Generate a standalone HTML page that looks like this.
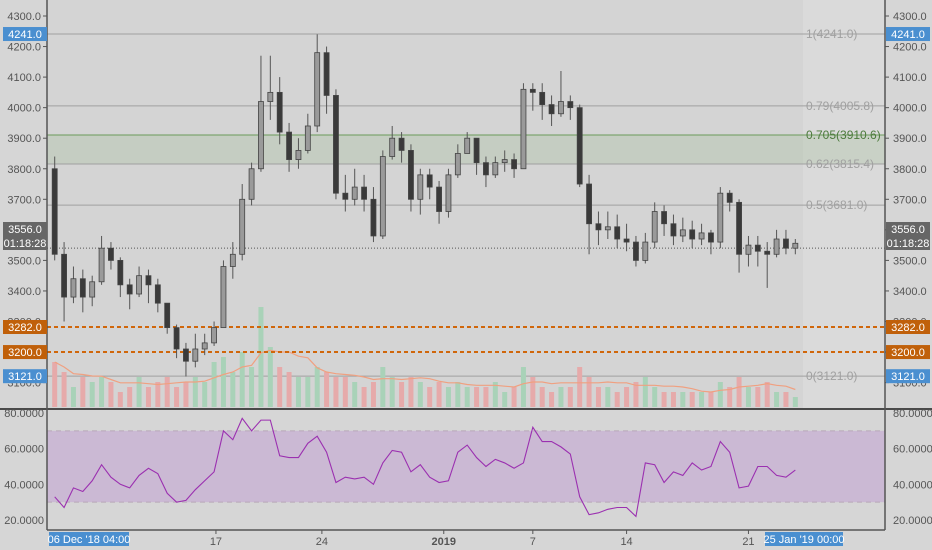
<!DOCTYPE html>
<html><head><meta charset="utf-8"><style>
html,body{margin:0;padding:0;background:#d6d6d6;}
svg{display:block;font-family:"Liberation Sans",sans-serif;}
</style></head><body>
<svg id="c" width="932" height="550" xmlns="http://www.w3.org/2000/svg"></svg>
<script>
const closes=[3520,3380,3440,3380,3430,3540,3500,3420,3390,3450,3420,3360,3280,3210,3170,3210,3230,3280,3480,3520,3700,3800,4020,4050,3920,3830,3860,3940,4180,4040,3720,3700,3740,3700,3580,3840,3900,3860,3700,3780,3740,3660,3780,3850,3900,3820,3780,3820,3830,3800,4060,4050,4010,3980,4020,4000,3750,3620,3600,3610,3570,3560,3500,3560,3660,3620,3580,3600,3570,3590,3560,3720,3690,3520,3550,3530,3520,3570,3540,3556];
const highs=[3840,3560,3480,3470,3450,3580,3560,3510,3440,3480,3470,3440,3360,3290,3230,3260,3260,3300,3500,3560,3750,3820,4170,4170,4100,3950,3900,3980,4240,4200,4060,3780,3800,3780,3740,3860,3940,3920,3880,3800,3800,3760,3800,3880,3920,3900,3840,3840,3860,3850,4080,4080,4080,4040,4120,4040,4010,3780,3660,3660,3650,3620,3580,3590,3690,3680,3650,3640,3630,3620,3600,3740,3730,3700,3580,3580,3560,3600,3600,3570];
const lows=[3500,3300,3360,3330,3350,3420,3470,3380,3340,3380,3360,3330,3260,3180,3120,3150,3190,3220,3280,3440,3500,3680,3790,3960,3880,3790,3800,3850,3920,3980,3700,3660,3680,3660,3560,3570,3830,3820,3660,3650,3700,3620,3640,3770,3850,3780,3740,3770,3790,3770,3800,3990,3960,3940,3970,3960,3740,3520,3550,3570,3540,3530,3480,3490,3540,3580,3550,3560,3540,3550,3520,3540,3660,3460,3480,3480,3410,3510,3520,3520];
const volumes=[45,35,20,30,25,30,25,15,20,30,20,25,30,20,25,30,25,45,50,35,55,40,100,60,40,35,30,30,40,35,30,30,25,20,25,40,30,25,30,25,20,25,20,25,20,20,20,25,15,20,40,30,20,15,20,20,40,30,20,20,15,20,25,30,20,15,15,15,15,15,15,25,20,30,20,20,25,15,15,10];
const rsi=[33,27,38,36,42,51,44,40,38,45,49,46,35,30,31,37,42,47,70,65,77,70,76,76,56,55,55,63,67,58,41,44,43,44,40,52,59,58,47,51,44,41,42,58,62,55,50,54,52,49,52,72,64,64,61,57,33,23,24,26,27,27,22,52,51,41,47,45,52,48,50,64,58,38,39,50,50,45,44,48];
const firstOpen=3800;
const priceTicks=[4300,4200,4100,4000,3900,3800,3700,3600,3500,3400,3300,3200,3100];
const rsiTicks=[80,60,40,20];
const fibLevels=[4241,4005.8,3910.6,3815.4,3681,3121];
const fibNames=["1","0.79","0.705","0.62","0.5","0"];
const timeLabels=["17","24","2019","7","14","21"];
const timeIdx=[17.2,28.5,41.5,51,61,74];

const NS="http://www.w3.org/2000/svg";
const svg=document.getElementById('c');
function el(t,a,p){const e=document.createElementNS(NS,t);for(const k in a)e.setAttribute(k,a[k]);(p||svg).appendChild(e);return e;}
function py(v){return 16+(4300-v)*0.3055;}
function ry(v){return 413+(80-v)*1.783;}
function cx(i){return 54.7+i*9.375;}

let r=el('rect',{x:47,y:0,width:756,height:408,fill:'#d4d4d4'});

el('rect',{x:803,y:0,width:82,height:408,fill:'#dadada'});
el('rect',{x:47,y:410,width:838,height:120,fill:'#d6d6d6'});
let z=el('rect',{x:47,y:py(3910.6),width:838,height:py(3815.4)-py(3910.6),fill:'rgba(150,185,140,0.25)'});

fibLevels.forEach((v,i)=>{
  const g=fibNames[i]==="0.705";
  const l=el('line',{x1:47,x2:885,y1:py(v),y2:py(v),stroke:g?'#6a9a5a':'#a0a0a0','stroke-width':1});
  
  const t=el('text',{x:806,y:py(v)+4,'font-size':12,fill:g?'#4c7a3c':'#a0a0a0'});
  t.textContent=fibNames[i]+"("+v.toFixed(1)+")";
  
});
const volBase=407;
volumes.forEach((v,i)=>{
  const o=i?closes[i-1]:firstOpen;
  const b=el('rect',{x:cx(i)-2.5,y:volBase-v,width:5,height:v,fill:closes[i]>=o?'#a9d2b8':'#e6aaaa'});
  
});
let pts=[];
volumes.forEach((v,i)=>{const s=volumes.slice(Math.max(0,i-5),i+1);const m=s.reduce((a,b)=>a+b,0)/s.length;pts.push(cx(i)+','+(volBase-m));});
let ma=el('polyline',{points:pts.join(' '),fill:'none',stroke:'#f0a080','stroke-width':1.2});

[3282,3200].forEach(v=>{
  const l=el('line',{x1:47,x2:885,y1:py(v),y2:py(v),stroke:'#d0660a','stroke-width':2,'stroke-dasharray':'4,3'});
  
});
let cp=el('line',{x1:47,x2:885,y1:py(3540),y2:py(3540),stroke:'#555','stroke-width':1,'stroke-dasharray':'1,2'});

closes.forEach((c,i)=>{
  const o=i?closes[i-1]:firstOpen;const x=cx(i);
  const w=el('line',{x1:x,x2:x,y1:py(highs[i]),y2:py(lows[i]),stroke:'#555','stroke-width':1});
  
  const top=py(Math.max(o,c)),bot=py(Math.min(o,c));
  const b=el('rect',{x:x-2.5,y:top,width:5,height:Math.max(1,bot-top),fill:c>=o?'#9a9a9a':'#3a3a3a',stroke:'#444','stroke-width':0.8});
  
});
let band=el('rect',{x:47,y:ry(70),width:838,height:ry(30)-ry(70),fill:'rgba(190,150,210,0.45)'});

[70,30].forEach(v=>el('line',{x1:47,x2:885,y1:ry(v),y2:ry(v),stroke:'#b8a8b8','stroke-dasharray':'5,4'}));
let rl=el('polyline',{points:rsi.map((v,i)=>cx(i)+','+ry(v)).join(' '),fill:'none',stroke:'#9b30b0','stroke-width':1.1});

el('line',{x1:0,x2:932,y1:409,y2:409,stroke:'#4a4a4a','stroke-width':2});
el('line',{x1:47,x2:47,y1:0,y2:530,stroke:'#555','stroke-width':1.5});
el('line',{x1:885,x2:885,y1:0,y2:530,stroke:'#555','stroke-width':1.5});
el('line',{x1:47,x2:885,y1:530,y2:530,stroke:'#555','stroke-width':1.5});
function lab(x,y,txt,anchor,name,fill){const t=el('text',{x:x,y:y,'font-size':11,fill:fill||'#555','text-anchor':anchor});t.textContent=txt;return t;}
priceTicks.forEach(v=>{
  lab(41,py(v)+4,v.toFixed(1),'end','y-axis-tick-label');lab(893,py(v)+4,v.toFixed(1),'start','y-axis-tick-label');
  el('line',{x1:43,x2:47,y1:py(v),y2:py(v),stroke:'#555'});el('line',{x1:885,x2:889,y1:py(v),y2:py(v),stroke:'#555'});
});
rsiTicks.forEach(v=>{
  lab(44,ry(v)+4,v.toFixed(4),'end','rsi-axis-tick-label');lab(893,ry(v)+4,v.toFixed(4),'start','rsi-axis-tick-label');
});
function badge(x,y,w,txt,bg,name){
  const g=el('g',{});
  el('rect',{x:x,y:y-7,width:w,height:14,fill:bg},g);
  const t=el('text',{x:x+w/2,y:y+4,'font-size':11,fill:'#fff','text-anchor':'middle'},g);t.textContent=txt;
}
[[4241,'#4a8fd0'],[3121,'#4a8fd0'],[3282,'#c0600a'],[3200,'#c0600a']].forEach(([v,c])=>{
  badge(3,py(v),44,v.toFixed(1),c,'price-badge-left');badge(886,py(v),44,v.toFixed(1),c,'price-badge-right');
});
badge(3,229,44,'3556.0','#666','last-price-left');badge(886,229,44,'3556.0','#666','last-price-right');
badge(3,243,44,'01:18:28','#666','countdown-left');badge(886,243,44,'01:18:28','#666','countdown-right');
timeLabels.forEach((t,i)=>{
  const x=cx(timeIdx[i]);
  el('line',{x1:x,x2:x,y1:530,y2:534,stroke:'#555'});
  const tt=lab(x,545,t,'middle','x-axis-tick-label');if(t==='2019')tt.setAttribute('font-weight','bold');
});
badge(49,539,80,"06 Dec '18   04:00",'#4a8fd0','time-badge-start');
badge(765,539,78,"25 Jan '19   00:00",'#4a8fd0','time-badge-end');
</script>
</body></html>
